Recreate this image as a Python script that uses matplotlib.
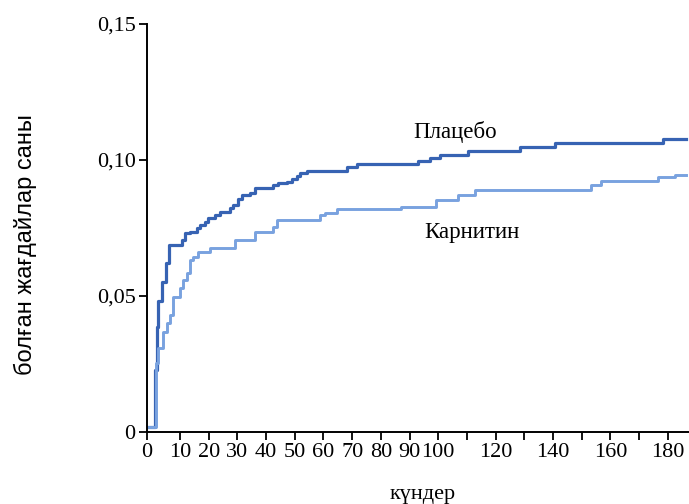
import matplotlib.pyplot as plt
import numpy as np

# step data (day, cumulative proportion), value holds from that day on
placebo_days = [-1.6, 1.3, 1.9, 2.4, 3.6, 5.1, 6.3, 10.6, 11.7, 13.5, 15.8, 17.0,
                18.7, 19.9, 22.2, 23.9, 27.4, 28.6, 30.3, 31.5, 34.4, 36.1, 42.5,
                44.3, 47.2, 48.9, 50.7, 51.8, 54.1, 68.1, 71.6, 93.0, 97.1, 100.6,
                110.5, 128.5, 140.7, 178.4, 186.3]
placebo_vals = [0.002, 0.0228, 0.0387, 0.048, 0.0553, 0.062, 0.0688, 0.0706, 0.073,
                0.0736, 0.0749, 0.0761, 0.0773, 0.0785, 0.0798, 0.081, 0.0822, 0.0835,
                0.0856, 0.0871, 0.088, 0.0896, 0.0908, 0.0914, 0.092, 0.0929, 0.0941,
                0.0951, 0.0961, 0.0975, 0.0985, 0.0996, 0.1006, 0.1018, 0.1034,
                0.1046, 0.1061, 0.1076, 0.1076]

carnitine_days = [-1.6, 1.7, 2.4, 4.2, 5.4, 6.5, 7.7, 10.0, 11.1, 12.3, 13.5, 14.6,
                  16.4, 20.5, 29.2, 36.1, 42.5, 43.7, 58.8, 60.5, 64.6, 87.2, 99.4,
                  107.0, 112.8, 153.4, 156.9, 176.7, 182.5, 186.3]
carnitine_vals = [0.002, 0.0252, 0.0308, 0.0369, 0.040, 0.043, 0.0497, 0.0528, 0.0559,
                  0.0583, 0.0632, 0.0645, 0.0663, 0.0678, 0.0706, 0.0736, 0.0755,
                  0.0779, 0.0798, 0.0806, 0.0818, 0.0828, 0.0853, 0.0871, 0.0890,
                  0.0908, 0.0923, 0.0936, 0.0945, 0.0945]

x_ticks = [-1.6] + list(range(10, 190, 10))
x_labels = ['0', '10', '20', '30', '40', '50', '60', '70', '80', '90', '100',
            '', '120', '', '140', '', '160', '', '180']
y_ticks = [0, 0.05, 0.10, 0.15]
y_labels = ['0', '0,05', '0,10', '0,15']

serif = 'Liberation Serif'
sans = 'Liberation Sans'

fig = plt.figure(figsize=(6.89, 5.04), dpi=100)
ax = fig.add_axes([0.2129, 0.1429, 0.7871, 0.8095])

ax.step(placebo_days, placebo_vals, where='post', color='#3763b3', lw=2.3)
ax.step(carnitine_days, carnitine_vals, where='post', color='#79a2df', lw=2.1)

ax.set_xlim(-1.6, 187.4)
ax.set_ylim(0, 0.15)
ax.set_xticks(x_ticks)
ax.set_xticklabels(x_labels, family=serif, fontsize=16)
ax.set_yticks(y_ticks)
ax.set_yticklabels(y_labels, family=serif, fontsize=16)
ax.tick_params(direction='out', length=6, width=1.3, color='black', pad=2)

for s in ['top', 'right']:
    ax.spines[s].set_visible(False)
for s in ['left', 'bottom']:
    ax.spines[s].set_linewidth(1.4)
    ax.spines[s].set_color('black')

ax.text(106.0, 0.1103, 'Плацебо', family=serif, fontsize=16.5, ha='center', va='center')
ax.text(111.7, 0.0732, 'Карнитин', family=serif, fontsize=16.5, ha='center', va='center')

fig.text(423 / 689, 1 - 494 / 504, 'күндер', family=serif, fontsize=16,
         ha='center', va='center')
fig.text(25 / 689, 1 - 245 / 504, 'болған жағдайлар саны', family=sans, fontsize=17,
         rotation=90, ha='center', va='center')

fig.savefig('out.png', dpi=100)
